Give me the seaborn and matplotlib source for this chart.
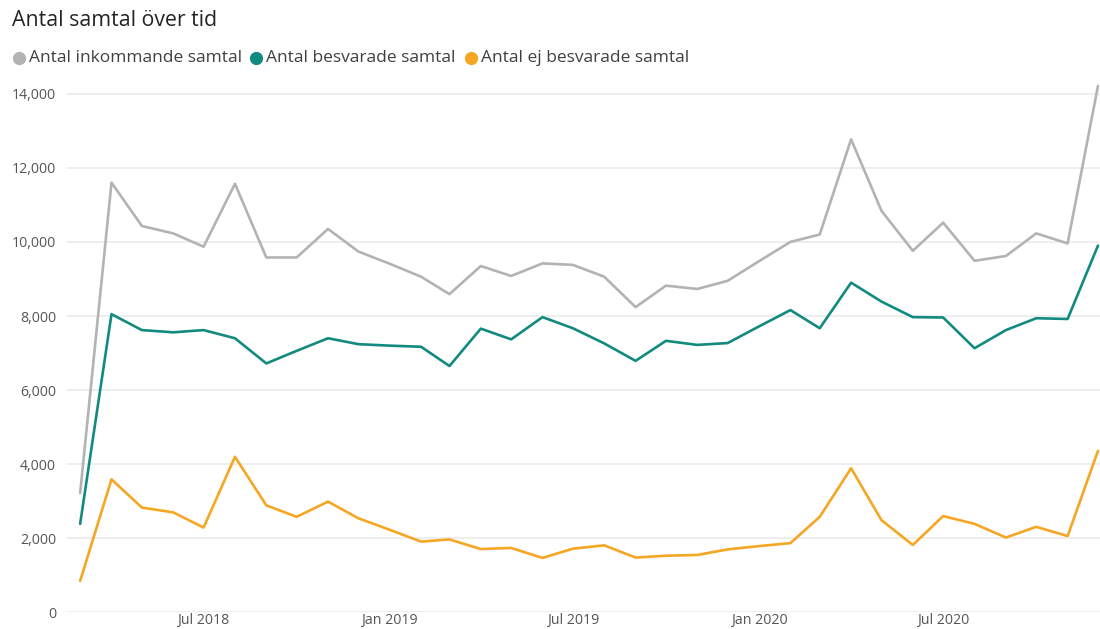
import pandas as pd
import matplotlib
matplotlib.use("Agg")
import matplotlib.pyplot as plt
import matplotlib.dates as mdates
from matplotlib.lines import Line2D
from matplotlib.ticker import FuncFormatter
import seaborn as sns

# Monthly values, Mar 2018 - Dec 2020
months = pd.date_range("2018-03-01", "2020-12-01", freq="MS")

inkommande = [3220, 11600, 10430, 10230, 9870, 11570, 9580, 9580, 10350, 9740,
              9410, 9060, 8590, 9350, 9080, 9420, 9380, 9060, 8240, 8820,
              8730, 8950, 9480, 10000, 10200, 12770, 10840, 9760, 10520, 9490,
              9620, 10230, 9960, 14210]
besvarade = [2390, 8050, 7620, 7560, 7620, 7400, 6720, 7060, 7400, 7240,
             7200, 7170, 6650, 7660, 7370, 7970, 7670, 7260, 6790, 7330,
             7220, 7270, 7720, 8160, 7670, 8900, 8390, 7970, 7960, 7130,
             7620, 7940, 7920, 9900]
ej_besvarade = [850, 3590, 2830, 2700, 2290, 4200, 2890, 2580, 2990, 2540,
                2230, 1910, 1970, 1710, 1740, 1470, 1720, 1810, 1480, 1530,
                1550, 1700, 1790, 1870, 2580, 3890, 2490, 1820, 2600, 2390,
                2020, 2310, 2060, 4360]

series_names = ["Antal inkommande samtal", "Antal besvarade samtal", "Antal ej besvarade samtal"]
series_colors = ["#B3B3B3", "#138A80", "#F5A623"]

df = pd.DataFrame({
    "month": list(months) * 3,
    "value": inkommande + besvarade + ej_besvarade,
    "serie": [series_names[0]] * len(months) + [series_names[1]] * len(months)
             + [series_names[2]] * len(months),
})

sns.set_style("white")
plt.rcParams["font.family"] = ["Open Sans", "DejaVu Sans"]

W, H = 1100, 629
fig = plt.figure(figsize=(W / 100, H / 100), dpi=100)
ax = fig.add_axes([67 / W, (H - 612.4) / H, 1033 / W, (612.4 - 78.9) / H])

sns.lineplot(data=df, x="month", y="value", hue="serie", palette=series_colors,
             hue_order=series_names, linewidth=1.9, ax=ax, legend=False)

ax.set_ylim(0, 14400)
ax.set_xlim(pd.Timestamp("2018-03-01") - pd.Timedelta(days=13),
            pd.Timestamp("2020-12-01") + pd.Timedelta(days=2))
ax.set_yticks(range(0, 14001, 2000))
ax.yaxis.set_major_formatter(FuncFormatter(lambda v, p: f"{int(v):,}"))
ax.xaxis.set_major_locator(mdates.MonthLocator(bymonth=[1, 7]))
ax.xaxis.set_major_formatter(mdates.DateFormatter("%b %Y"))

ax.grid(axis="y", color="#EBEBEB", linewidth=1.2)
ax.set_axisbelow(True)
for s in ax.spines.values():
    s.set_visible(False)
ax.tick_params(axis="both", length=0, labelsize=10.2, labelcolor="#555555")
ax.tick_params(axis="y", pad=8)
ax.tick_params(axis="x", pad=0.5)
ax.set_xlabel("")
ax.set_ylabel("")

fig.text(12 / W, 1 - 21 / H, "Antal samtal över tid", fontsize=15.3,
         color="#252423", va="center", ha="left")

# legend drawn by hand so the item positions match the reference
legend_marker_x = [19, 256, 471]
legend_y = 1 - 58 / H
for name, col, mx in zip(series_names, series_colors, legend_marker_x):
    fig.add_artist(Line2D([mx / W], [legend_y], marker="o", markersize=8.5, color=col,
                          linestyle="", transform=fig.transFigure))
    fig.text((mx + 10) / W, legend_y, name, fontsize=12.5, color="#404040",
             va="center", ha="left")

fig.savefig("out.png", dpi=100)
